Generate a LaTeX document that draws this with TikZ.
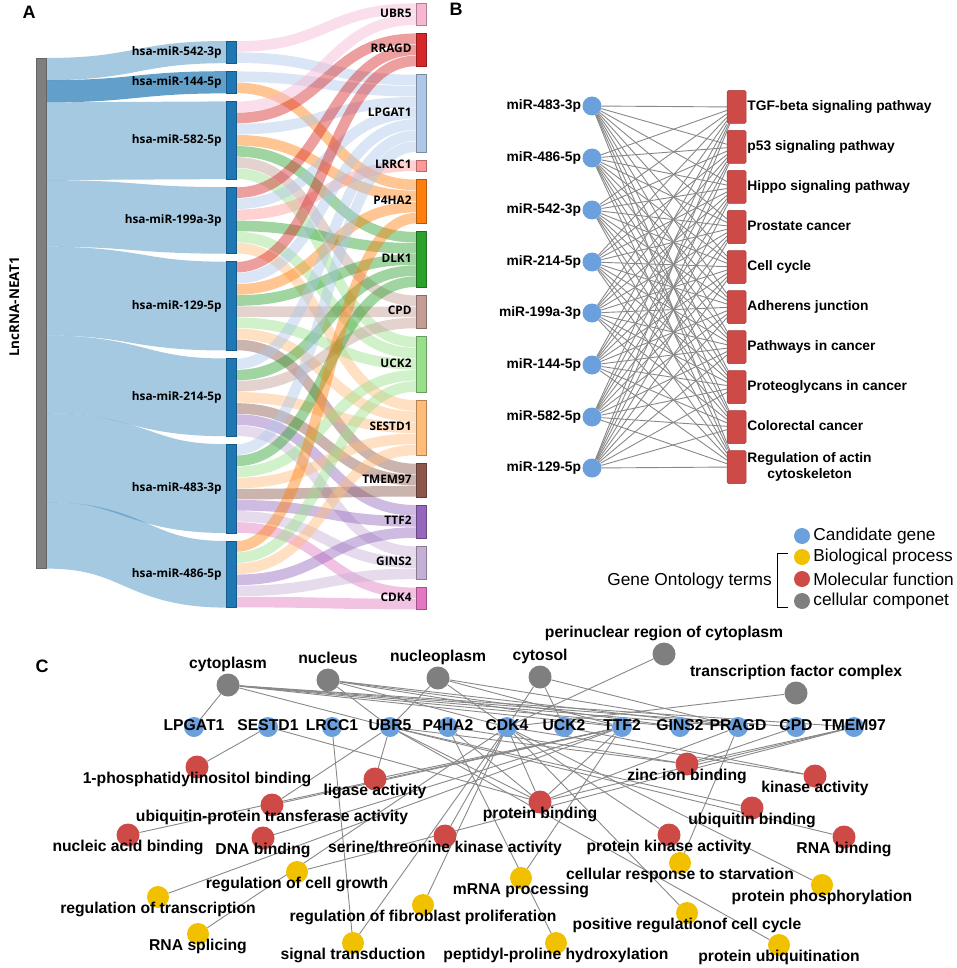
\documentclass[tikz,border=0pt]{standalone}
\usepackage{fontspec}
\setmainfont{Liberation Sans}
\newfontfamily\sankeyfont{Open Sans}
\usepackage{xcolor}
% sankey colours
\definecolor{cMir}{HTML}{1F77B4}
\definecolor{cLnc}{HTML}{7F7F7F}
\definecolor{cUbr}{HTML}{F7B6D2}
\definecolor{cRra}{HTML}{D62728}
\definecolor{cLpg}{HTML}{AEC7E8}
\definecolor{cLrr}{HTML}{FF9896}
\definecolor{cP4h}{HTML}{FF7F0E}
\definecolor{cDlk}{HTML}{2CA02C}
\definecolor{cCpd}{HTML}{C49C94}
\definecolor{cUck}{HTML}{98DF8A}
\definecolor{cSes}{HTML}{FFBB78}
\definecolor{cTme}{HTML}{8C564B}
\definecolor{cTtf}{HTML}{9467BD}
\definecolor{cGin}{HTML}{C5B0D5}
\definecolor{cCdk}{HTML}{E377C2}
% network colours
\definecolor{cBlue}{HTML}{6CA0DC}
\definecolor{cRed}{HTML}{CD4A47}
\definecolor{cYellow}{HTML}{F1C100}
\definecolor{cGray}{HTML}{7F7F7F}
\definecolor{cEdge}{HTML}{888888}
\usepackage{tikz}
\usetikzlibrary{positioning, backgrounds}
\tikzset{
	line width = .7pt,
	panel/.style={font=\bfseries\fontsize{18pt}{20pt}\selectfont, inner sep=0pt},
	sbar/.style={rectangle, draw, minimum width=10pt, inner sep=0pt, line width=.6pt},
	mbar/.style={sbar, fill=cMir, draw=cMir!75!black},
	slab/.style={font=\sankeyfont\bfseries\fontsize{11.8pt}{13pt}\selectfont, inner sep=0pt, label distance=4pt, text height=8.8pt, text depth=2.6pt},
	link/.style={line width=10.6pt, opacity=.45},
	mirna/.style={circle, fill=cBlue, minimum size=19pt, inner sep=0pt},
	keggbox/.style={rectangle, rounded corners=1.5pt, fill=cRed, draw=cRed!80!black, line width=.5pt, minimum width=19pt, minimum height=33pt, inner sep=0pt},
	blab/.style={font=\bfseries\fontsize{13.8pt}{16pt}\selectfont, inner sep=0pt, text height=10pt, text depth=3pt, label distance=1pt},
	bedge/.style={draw=cEdge, line width=.9pt},
	gonode/.style={circle, inner sep=0pt, minimum size=23pt},
	clab/.style={font=\bfseries\fontsize{15.7pt}{18pt}\selectfont, inner sep=0pt, text height=11.3pt, text depth=3.3pt},
	cc/.style={gonode, fill=cGray, label={[clab, label distance=1.2pt]90:#1}},
	mf/.style={gonode, fill=cRed, label={[clab, label distance=-6.3pt]-90:#1}},
	bp/.style={gonode, fill=cYellow, minimum size=22pt, label={[clab, label distance=-5.8pt]-90:#1}},
	gene/.style={gonode, fill=cBlue, minimum size=20pt, label={[clab, label distance=-17.3pt]90:#1}},
	cedge/.style={draw=cEdge, line width=.9pt},
	leglab/.style={font=\fontsize{17.3pt}{20pt}\selectfont, inner sep=0pt, label distance=3pt},
	legdot/.style={circle, inner sep=0pt, minimum size=16pt, label={[leglab]0:#1}}
}

\begin{document}
\begin{tikzpicture}[x=1pt, y=-1pt]
	\useasboundingbox (0,0) rectangle (957,968);

	% A: sankey lncRNA -> miRNA -> gene
	\node[panel] (A) at (29,12) {A};
	\foreach \yl/\yr/\w/\o in {69.1/52.1/22.2/.4, 91.3/82.3/22.2/.7, 141.25/140.25/77.7/.4, 213.4/220.4/66.6/.4,
		291.1/306.1/88.8/.4, 374.35/397.35/77.7/.4, 457.6/488.6/88.8/.4, 535.3/574.3/66.6/.4}
		\draw[cMir, line width=\w, opacity=\o] (46,\yl) .. controls (136,\yl) and (136,\yr) .. (226,\yr);
	\foreach \sy/\ty/\c in {41/3/cUbr, 52.1/74.5/cLpg,
		71.2/85.6/cLpg, 82.3/179.3/cP4h,
		101.4/14.1/cUbr, 112.5/33.2/cRra, 123.6/96.7/cLpg, 134.7/190.4/cP4h, 145.8/231.7/cDlk, 156.9/295.2/cCpd, 168/336.5/cUck,
		187.1/44.3/cRra, 198.2/107.8/cLpg, 209.3/160.2/cLrr, 220.4/242.8/cDlk, 231.5/347.6/cUck, 242.6/400/cSes,
		261.7/55.4/cRra, 272.8/118.9/cLpg, 283.9/201.5/cP4h, 295/253.9/cDlk, 306.1/306.3/cCpd, 317.2/358.7/cUck, 328.3/411.1/cSes, 339.4/463.5/cTme,
		358.5/130/cLpg, 369.6/265/cDlk, 380.7/317.4/cCpd, 391.8/422.2/cSes, 402.9/474.6/cTme, 414/504.8/cTtf, 425.1/546.1/cGin,
		444.2/141.1/cLpg, 455.3/276.1/cDlk, 466.4/369.8/cUck, 477.5/433.3/cSes, 488.6/485.7/cTme, 499.7/515.9/cTtf, 510.8/557.2/cGin, 521.9/587.4/cCdk,
		541/212.6/cP4h, 552.1/380.9/cUck, 563.2/444.4/cSes, 574.3/527/cTtf, 585.4/568.3/cGin, 596.5/598.5/cCdk}
		\draw[\c, link] (236,\sy+5.55) .. controls (326,\sy+5.55) and (326,\ty+5.55) .. (416,\ty+5.55);

	\node[sbar, fill=cLnc, draw=cLnc!80!black, minimum height=510.6pt] (lnc) at (41,313.3) {};
	\node[slab, rotate=90, font=\sankeyfont\bfseries\fontsize{13.5pt}{15pt}\selectfont] (lnclab) at (16,307) {LncRNA-NEAT1};

	\node[mbar, minimum height=22.2pt, label={[slab]180:hsa-miR-542-3p}] (s542) at (231,52.1) {};
	\node[mbar, minimum height=22.2pt, label={[slab]180:hsa-miR-144-5p}] (s144) at (231,82.3) {};
	\node[mbar, minimum height=77.7pt, label={[slab]180:hsa-miR-582-5p}] (s582) at (231,140.25) {};
	\node[mbar, minimum height=66.6pt, label={[slab]180:hsa-miR-199a-3p}] (s199) at (231,220.4) {};
	\node[mbar, minimum height=88.8pt, label={[slab]180:hsa-miR-129-5p}] (s129) at (231,306.1) {};
	\node[mbar, minimum height=77.7pt, label={[slab]180:hsa-miR-214-5p}] (s214) at (231,397.35) {};
	\node[mbar, minimum height=88.8pt, label={[slab]180:hsa-miR-483-3p}] (s483) at (231,488.6) {};
	\node[mbar, minimum height=66.6pt, label={[slab]180:hsa-miR-486-5p}] (s486) at (231,574.3) {};

	\node[sbar, fill=cUbr, draw=cUbr!70!black, minimum height=22.2pt, label={[slab]180:UBR5}] (sUBR5) at (421,14.1) {};
	\node[sbar, fill=cRra, draw=cRra!70!black, minimum height=33.3pt, label={[slab]180:RRAGD}] (sRRAGD) at (421,49.85) {};
	\node[sbar, fill=cLpg, draw=cLpg!70!black, minimum height=77.7pt, label={[slab]180:LPGAT1}] (sLPGAT1) at (421,113.35) {};
	\node[sbar, fill=cLrr, draw=cLrr!70!black, minimum height=11.1pt, label={[slab]180:LRRC1}] (sLRRC1) at (421,165.75) {};
	\node[sbar, fill=cP4h, draw=cP4h!70!black, minimum height=44.4pt, label={[slab]180:P4HA2}] (sP4HA2) at (421,201.5) {};
	\node[sbar, fill=cDlk, draw=cDlk!70!black, minimum height=55.5pt, label={[slab]180:DLK1}] (sDLK1) at (421,259.45) {};
	\node[sbar, fill=cCpd, draw=cCpd!70!black, minimum height=33.3pt, label={[slab]180:CPD}] (sCPD) at (421,311.85) {};
	\node[sbar, fill=cUck, draw=cUck!70!black, minimum height=55.5pt, label={[slab]180:UCK2}] (sUCK2) at (421,364.25) {};
	\node[sbar, fill=cSes, draw=cSes!70!black, minimum height=55.5pt, label={[slab]180:SESTD1}] (sSESTD1) at (421,427.75) {};
	\node[sbar, fill=cTme, draw=cTme!70!black, minimum height=33.3pt, label={[slab]180:TMEM97}] (sTMEM97) at (421,480.15) {};
	\node[sbar, fill=cTtf, draw=cTtf!70!black, minimum height=33.3pt, label={[slab]180:TTF2}] (sTTF2) at (421,521.45) {};
	\node[sbar, fill=cGin, draw=cGin!70!black, minimum height=33.3pt, label={[slab]180:GINS2}] (sGINS2) at (421,562.75) {};
	\node[sbar, fill=cCdk, draw=cCdk!70!black, minimum height=22.2pt, label={[slab]180:CDK4}] (sCDK4) at (421,598.5) {};

	% B: miRNA - KEGG pathway network
	\node[panel] (B) at (456,9) {B};
	\node[mirna, label={[blab]180:miR-483-3p}] (mi483) at (592,106) {};
	\node[mirna, label={[blab]180:miR-486-5p}] (mi486) at (592,158) {};
	\node[mirna, label={[blab]180:miR-542-3p}] (mi542) at (592,210) {};
	\node[mirna, label={[blab]180:miR-214-5p}] (mi214) at (592,262) {};
	\node[mirna, label={[blab]180:miR-199a-3p}] (mi199) at (592,313) {};
	\node[mirna, label={[blab]180:miR-144-5p}] (mi144) at (592,365) {};
	\node[mirna, label={[blab]180:miR-582-5p}] (mi582) at (592,417) {};
	\node[mirna, label={[blab]180:miR-129-5p}] (mi129) at (592,468) {};
	\foreach \k/\y/\t in {1/107/TGF-beta signaling pathway, 2/147/p53 signaling pathway, 3/187/Hippo signaling pathway,
		4/227/Prostate cancer, 5/267/Cell cycle, 6/307/Adherens junction, 7/347/Pathways in cancer,
		8/387/Proteoglycans in cancer, 9/427/Colorectal cancer}
		\node[keggbox, label={[blab]0:\t}] (k\k) at (736.5,\y) {};
	\node[keggbox, label={[font=\bfseries\fontsize{13.8pt}{15.6pt}\selectfont, inner sep=0pt, align=center, label distance=1pt]0:Regulation of actin\\cytoskeleton}] (k10) at (736.5,467) {};
	\begin{scope}[on background layer]
		\foreach \m in {mi483,mi486,mi542,mi214,mi199,mi144,mi582,mi129}
			\foreach \k in {1,...,10}
				\draw[bedge] (\m) -- (k\k);
	\end{scope}

	% legend
	\node[legdot=Candidate gene, fill=cBlue] (lgene) at (802,536) {};
	\node[legdot=Biological process, fill=cYellow] (lbp) at (802,557) {};
	\node[legdot=Molecular function, fill=cRed] (lmf) at (802,579) {};
	\node[legdot=cellular componet, fill=cGray] (lcc) at (802,601) {};
	\node[font=\fontsize{17.3pt}{20pt}\selectfont, inner sep=0pt, anchor=east] (goterms) at (772,581) {Gene Ontology terms};
	\draw[line width=.8pt] (788,553) -- (777,553) -- (777,607) -- (788,607);

	% C: gene - GO term network
	\node[panel] (C) at (42,666) {C};
	\node[cc=cytoplasm] (cyto) at (228,685) {};
	\node[cc=nucleus] (nucl) at (328,680) {};
	\node[cc=nucleoplasm] (nplasm) at (438,678) {};
	\node[cc=cytosol] (cytosol) at (540,677) {};
	\node[cc=perinuclear region of cytoplasm] (perinuc) at (664,654) {};
	\node[cc=transcription factor complex] (tfc) at (796,693) {};

	\node[mf=1-phosphatidylinositol binding] (phos) at (197,767) {};
	\node[mf=ligase activity] (lig) at (375,779) {};
	\node[mf=ubiquitin-protein transferase activity] (ubtr) at (272,805) {};
	\node[mf=nucleic acid binding] (nab) at (128,835) {};
	\node[mf=DNA binding] (dnab) at (263,838) {};
	\node[mf=serine/threonine kinase activity] (stk) at (445,836) {};
	\node[mf=protein binding] (pbind) at (540,802) {};
	\node[mf=zinc ion binding] (zinc) at (687,764) {};
	\node[mf=kinase activity] (kin) at (815,776) {};
	\node[mf=ubiquitin binding] (ubb) at (752,808) {};
	\node[mf=protein kinase activity] (pka) at (669,835) {};
	\node[mf=RNA binding] (rnab) at (844,837) {};

	\node[bp=regulation of cell growth] (rcg) at (297,872) {};
	\node[bp=regulation of transcription] (rtr) at (158,897) {};
	\node[bp=RNA splicing] (rsp) at (198,934) {};
	\node[bp=regulation of fibroblast proliferation] (rfp) at (423,905) {};
	\node[bp=signal transduction] (sig) at (353,943) {};
	\node[bp=mRNA processing] (mrna) at (521,878) {};
	\node[bp=peptidyl-proline hydroxylation] (ppx) at (556,943) {};
	\node[bp=cellular response to starvation] (crs) at (680,863) {};
	\node[bp=protein phosphorylation] (pph) at (822,885) {};
	\node[bp=positive regulationof cell cycle] (prc) at (687,913) {};
	\node[bp=protein ubiquitination] (pub) at (779,945) {};

	\node[gene=LPGAT1] (gLPGAT1) at (194,727) {};
	\node[gene=SESTD1] (gSESTD1) at (268,727) {};
	\node[gene=LRCC1] (gLRCC1) at (332,727) {};
	\node[gene=UBR5] (gUBR5) at (390,727) {};
	\node[gene=P4HA2] (gP4HA2) at (448,727) {};
	\node[gene=CDK4] (gCDK4) at (507,727) {};
	\node[gene=UCK2] (gUCK2) at (564,727) {};
	\node[gene=TTF2] (gTTF2) at (622,727) {};
	\node[gene=GINS2] (gGINS2) at (680,727) {};
	\node[gene=PRAGD] (gPRAGD) at (738,727) {};
	\node[gene=CPD] (gCPD) at (796,727) {};
	\node[gene=TMEM97] (gTMEM97) at (854,727) {};

	\begin{scope}[on background layer]
		\foreach \a/\b in {cyto/gLPGAT1, cyto/gUBR5, cyto/gTTF2, cyto/gGINS2, cyto/gPRAGD, cyto/gCPD, cyto/gTMEM97,
			nucl/gUBR5, nucl/gCDK4, nucl/gTTF2, nucl/gGINS2, nucl/gPRAGD,
			nplasm/gUBR5, nplasm/gCDK4, nplasm/gTTF2, nplasm/gPRAGD,
			cytosol/gCDK4, cytosol/gUCK2, cytosol/gPRAGD, perinuc/gCDK4, tfc/gCDK4,
			gSESTD1/phos, gSESTD1/pbind, gLRCC1/sig,
			gUBR5/lig, gUBR5/ubtr, gUBR5/pbind, gUBR5/ubb, gUBR5/pub, gUBR5/zinc, gUBR5/rnab,
			gP4HA2/ppx, gP4HA2/zinc, gP4HA2/pbind,
			gCDK4/pbind, gCDK4/stk, gCDK4/pka, gCDK4/kin, gCDK4/pph, gCDK4/prc, gCDK4/rfp, gCDK4/sig, gCDK4/rsp,
			gUCK2/kin,
			gTTF2/nab, gTTF2/dnab, gTTF2/ubtr, gTTF2/lig, gTTF2/rtr, gTTF2/mrna, gTTF2/pbind,
			gPRAGD/crs, gPRAGD/pbind, gCPD/zinc, gTMEM97/zinc, gTMEM97/pbind, gTMEM97/rcg}
			\draw[cedge] (\a) -- (\b);
	\end{scope}
\end{tikzpicture}
\end{document}
